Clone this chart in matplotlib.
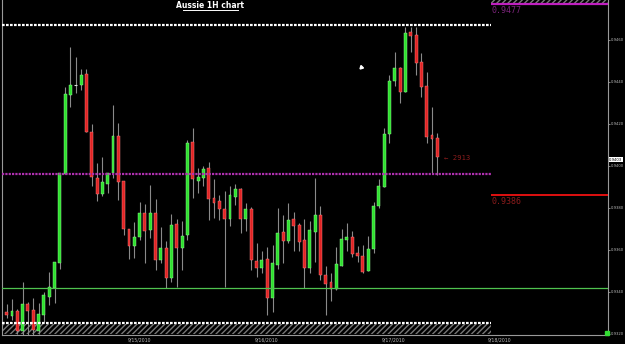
import numpy as np
import matplotlib
matplotlib.use("Agg")
import matplotlib.pyplot as plt

# hourly AUD/USD candles
opens = [0.93304, 0.93285, 0.93309, 0.93214, 0.93342, 0.93314, 0.93214, 0.93290, 0.93376, 0.93419,
         0.93538, 0.93961, 0.94338, 0.94385, 0.94385, 0.94438, 0.94161, 0.93942, 0.93866, 0.93914,
         0.93966, 0.94142, 0.93928, 0.93700, 0.93619, 0.93661, 0.93776, 0.93695, 0.93776, 0.93552,
         0.93609, 0.93466, 0.93723, 0.93609, 0.93671, 0.94114, 0.93928, 0.93942, 0.93990, 0.93847,
         0.93833, 0.93795, 0.93747, 0.93852, 0.93890, 0.93747, 0.93795, 0.93547, 0.93514, 0.93557,
         0.93371, 0.93528, 0.93685, 0.93642, 0.93747, 0.93719, 0.93647, 0.93514, 0.93685, 0.93766,
         0.93481, 0.93447, 0.93414, 0.93523, 0.93647, 0.93661, 0.93585, 0.93571, 0.93500, 0.93604,
         0.93809, 0.93900, 0.94152, 0.94404, 0.94466, 0.94352, 0.94638, 0.94623, 0.94495, 0.94381,
         0.94147, 0.94133]
highs = [0.93342, 0.93366, 0.93319, 0.93447, 0.93352, 0.93371, 0.93347, 0.93400, 0.93495, 0.93542,
         0.93966, 0.94376, 0.94566, 0.94519, 0.94461, 0.94461, 0.94200, 0.94014, 0.94042, 0.93966,
         0.94290, 0.94204, 0.93928, 0.93700, 0.93733, 0.93828, 0.93819, 0.93909, 0.93842, 0.93709,
         0.93642, 0.93771, 0.93747, 0.93738, 0.94123, 0.94181, 0.93990, 0.94000, 0.94019, 0.93938,
         0.93861, 0.93881, 0.93904, 0.93914, 0.93895, 0.93823, 0.93804, 0.93633, 0.93595, 0.93614,
         0.93623, 0.93800, 0.93766, 0.93823, 0.93781, 0.93728, 0.93747, 0.93738, 0.93942, 0.93809,
         0.93523, 0.93490, 0.93614, 0.93700, 0.93728, 0.93690, 0.93619, 0.93623, 0.93666, 0.93828,
         0.93938, 0.94181, 0.94433, 0.94542, 0.94471, 0.94661, 0.94661, 0.94661, 0.94538, 0.94447,
         0.94281, 0.94157]
lows = [0.93276, 0.93266, 0.93200, 0.93195, 0.93185, 0.93195, 0.93200, 0.93257, 0.93338, 0.93347,
        0.93509, 0.93961, 0.94281, 0.94347, 0.94361, 0.94161, 0.93904, 0.93833, 0.93857, 0.93871,
        0.93942, 0.93838, 0.93671, 0.93557, 0.93561, 0.93647, 0.93538, 0.93657, 0.93504, 0.93538,
        0.93419, 0.93447, 0.93423, 0.93504, 0.93647, 0.93847, 0.93871, 0.93904, 0.93742, 0.93752,
        0.93742, 0.93423, 0.93714, 0.93814, 0.93681, 0.93690, 0.93504, 0.93471, 0.93490, 0.93290,
        0.93304, 0.93509, 0.93538, 0.93633, 0.93595, 0.93595, 0.93419, 0.93490, 0.93542, 0.93457,
        0.93290, 0.93357, 0.93409, 0.93523, 0.93595, 0.93566, 0.93542, 0.93490, 0.93500, 0.93585,
        0.93800, 0.93900, 0.94109, 0.94381, 0.94300, 0.94352, 0.94542, 0.94433, 0.94328, 0.94109,
        0.93966, 0.93957]
closes = [0.93290, 0.93309, 0.93214, 0.93342, 0.93309, 0.93219, 0.93295, 0.93385, 0.93423, 0.93542,
          0.93966, 0.94342, 0.94385, 0.94385, 0.94433, 0.94161, 0.93947, 0.93866, 0.93923, 0.93966,
          0.94142, 0.93923, 0.93700, 0.93619, 0.93661, 0.93776, 0.93690, 0.93776, 0.93552, 0.93609,
          0.93466, 0.93719, 0.93609, 0.93666, 0.94109, 0.93938, 0.93947, 0.93985, 0.93842, 0.93823,
          0.93795, 0.93747, 0.93861, 0.93890, 0.93747, 0.93795, 0.93552, 0.93514, 0.93552, 0.93371,
          0.93538, 0.93681, 0.93642, 0.93742, 0.93714, 0.93638, 0.93514, 0.93695, 0.93766, 0.93481,
          0.93438, 0.93414, 0.93533, 0.93652, 0.93661, 0.93581, 0.93571, 0.93495, 0.93604, 0.93809,
          0.93904, 0.94152, 0.94404, 0.94466, 0.94352, 0.94633, 0.94619, 0.94490, 0.94376, 0.94138,
          0.94128, 0.94042]

# horizontal levels drawn on the chart
top_zone = 0.9467
bottom_zone = 0.9325
pivot_level = 0.9396
support_level = 0.9342
target_high = 0.9477
target_low = 0.9386
last_price = 0.9403

price_ticks = [0.9320, 0.9340, 0.9360, 0.9380, 0.9400, 0.9420, 0.9440, 0.9460]
date_labels = ["9/15/2010", "9/16/2010", "9/17/2010", "9/18/2010"]
date_pos = [25.0, 48.8, 72.8, 92.7]

GREEN = "#2ee02e"
RED = "#e02424"
WICK = "#8a8a8a"

fig = plt.figure(figsize=(6.25, 3.44), dpi=100, facecolor="black")
ax = fig.add_axes([2 / 625, 9 / 344, 606 / 625, 335 / 344], facecolor="black")

o = np.array(opens)
h = np.array(highs)
l = np.array(lows)
c = np.array(closes)
x = np.arange(len(o))

ax.vlines(x, l, h, color=WICK, linewidth=0.8, zorder=2)
up = c > o
down = c < o
flat = c == o
ax.bar(x[up], (c - o)[up], bottom=o[up], width=0.55, color=GREEN,
       edgecolor="#9cff9c", linewidth=0.3, zorder=3)
ax.bar(x[down], (c - o)[down], bottom=o[down], width=0.55, color=RED,
       edgecolor="#ff8a8a", linewidth=0.3, zorder=3)
ax.hlines(o[flat], x[flat] - 0.3, x[flat] + 0.3, color="#dddddd", linewidth=0.8, zorder=3)

xmax = 113.1
split = 91.0
frac = (split + 0.88) / (xmax + 0.88)

# zones and levels
ax.hlines(top_zone, -0.88, split, color="white", linewidth=1.6,
          linestyles=(0, (1.2, 0.6)), zorder=4)
ax.hlines(bottom_zone, -0.88, split, color="white", linewidth=1.6,
          linestyles=(0, (1.2, 0.6)), zorder=4)
ax.axhspan(0.93200, bottom_zone - 0.00005, xmin=0, xmax=frac, facecolor="black",
           edgecolor="#777777", hatch="//////", linewidth=0, zorder=1)
ax.axhspan(target_high + 0.00004, 0.94790, xmin=frac, xmax=1, facecolor="black",
           edgecolor="#777777", hatch="//////", linewidth=0, zorder=1)
ax.hlines(target_high, split, xmax, color="#c020c0", linewidth=1.6, zorder=4)
ax.hlines(pivot_level, -0.88, split, color="#b030b0", linewidth=1.6,
          linestyles=(0, (1.0, 0.5)), zorder=4)
ax.hlines(target_low, split, xmax, color="#e01010", linewidth=1.4, zorder=4)
ax.axhline(support_level, color="#4fc24f", linewidth=0.9, zorder=4)

ax.text(split + 0.2, target_high - 0.00008, "0.9477", color="#7a247a", fontsize=6,
        va="top", ha="left", family="DejaVu Sans Mono")
ax.text(split + 0.2, target_low - 0.00008, "0.9386", color="#8a1c1c", fontsize=6,
        va="top", ha="left", family="DejaVu Sans Mono")
ax.text(len(o) + 0.2, closes[-1] - 0.00002, "\u2190 2913", color="#8a1c1c", fontsize=5.2,
        va="center", ha="left", family="DejaVu Sans Mono")

# small cursor mark left on the screenshot
ax.plot([66.6], [0.9447], marker=(3, 0, 15), color="white", markersize=3, zorder=5)
# green marker at the bottom of the price scale
ax.plot([xmax - 0.1], [0.93205], marker="s", color="#33dd33", markersize=2.5,
        clip_on=False, zorder=5)

ax.set_xlim(-0.88, xmax)
ax.set_ylim(0.93195, 0.94790)

ax.yaxis.tick_right()
ax.set_yticks(price_ticks)
ax.set_yticklabels([f"{p:.4f}" for p in price_ticks])
ax.tick_params(axis="y", colors="#bbbbbb", labelsize=2.7, length=1.5, width=0.5, pad=0.5)
ax.set_xticks(date_pos)
ax.set_xticklabels(date_labels)
ax.tick_params(axis="x", colors="#bbbbbb", labelsize=3.3, length=0, pad=1.5)

ax.spines["top"].set_visible(False)
for side in ["left", "right", "bottom"]:
    ax.spines[side].set_color("#999999")
    ax.spines[side].set_linewidth(0.8)

# last price box on the price scale
ax.text(1.002, last_price, f"{last_price:.4f}", transform=ax.get_yaxis_transform(),
        fontsize=2.7, color="black", va="center", ha="left",
        bbox=dict(boxstyle="square,pad=0.1", facecolor="white", edgecolor="none"))

fig.text(210 / 625, 1 - 6 / 344, "Aussie 1H chart", color="white", fontsize=5.5,
         fontweight="bold", ha="center", va="center")
fig.add_artist(plt.Line2D([183 / 625, 238 / 625], [1 - 10 / 344, 1 - 10 / 344],
                          color="white", linewidth=0.7))

fig.savefig("out.png", dpi=100, facecolor="black")
